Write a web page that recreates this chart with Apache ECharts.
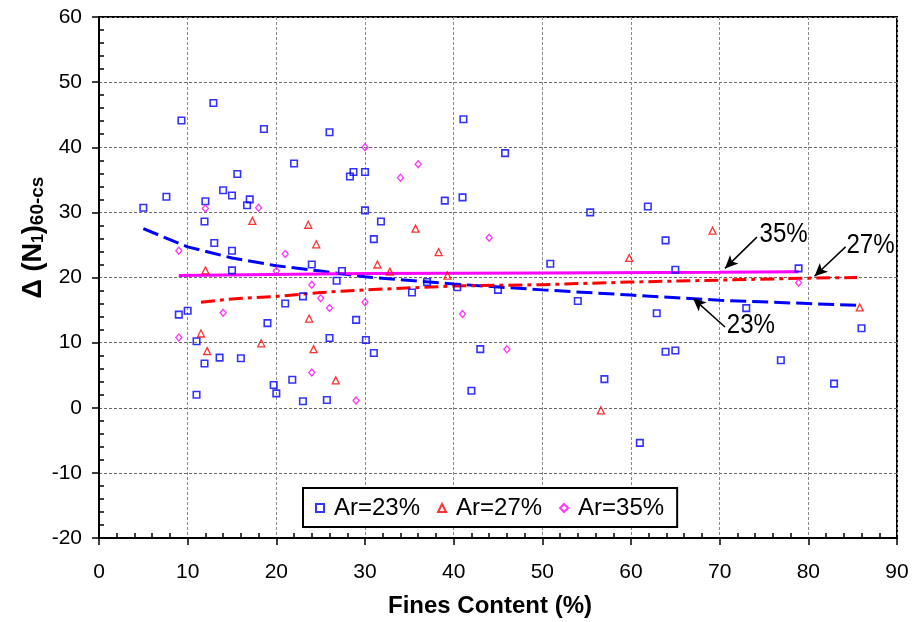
<!DOCTYPE html>
<html>
<head>
<meta charset="utf-8">
<script src="https://cdn.jsdelivr.net/npm/echarts@6/dist/echarts.min.js"></script>
<style>
  html, body { margin: 0; padding: 0; background: #fff; }
  #chart { width: 913px; height: 622px; }
</style>
</head>
<body>
<div id="chart"></div>
<script>
// Measured points: [fines content %, Δ(N1)60-cs]
const ar23 = [
  [12.9, 46.8], [9.3, 44.1], [18.6, 42.8], [22.0, 37.5], [15.6, 35.9], [7.6, 32.4],
  [14.0, 33.4], [15.0, 32.6], [12.0, 31.7], [17.0, 32.0], [16.7, 31.1], [5.0, 30.7],
  [11.9, 28.6], [13.0, 25.3], [15.0, 24.1], [24.0, 22.0], [15.0, 21.1], [23.0, 17.1],
  [21.0, 16.0], [9.0, 14.3], [10.0, 14.9], [19.0, 13.0], [11.0, 10.2], [13.6, 7.7],
  [16.0, 7.6], [11.9, 6.8], [21.8, 4.3], [19.7, 3.5], [20.0, 2.2], [11.0, 2.0],
  [23.0, 1.0], [25.7, 1.2], [26.0, 42.3], [41.1, 44.3], [45.8, 39.1], [28.7, 36.2],
  [28.3, 35.5], [30.0, 36.2], [39.0, 31.8], [41.0, 32.3], [30.0, 30.3], [31.8, 28.6],
  [31.0, 25.9], [27.4, 21.0], [26.8, 19.5], [37.0, 19.3], [40.4, 18.5], [35.3, 17.7],
  [45.0, 18.1], [29.0, 13.5], [26.0, 10.7], [30.1, 10.4], [31.0, 8.4], [43.0, 9.0],
  [42.0, 2.6], [55.4, 30.0], [61.9, 30.9], [63.9, 25.7], [50.9, 22.1], [65.0, 21.2],
  [54.0, 16.4], [62.9, 14.5], [73.0, 15.3], [63.9, 8.6], [65.0, 8.8], [57.0, 4.4],
  [61.0, -5.4], [78.9, 21.4], [86.0, 12.2], [76.9, 7.3], [82.9, 3.7]
];
const ar27 = [
  [17.3, 28.7], [23.6, 28.1], [24.5, 25.1], [12.0, 21.1], [23.7, 13.7], [11.5, 11.4],
  [18.3, 9.9], [12.2, 8.7], [24.2, 9.0], [35.7, 27.5], [38.3, 23.9], [31.4, 22.0],
  [32.8, 20.9], [39.3, 20.3], [26.7, 4.2], [69.2, 27.2], [59.8, 23.0], [56.6, -0.4],
  [85.8, 15.4]
];
const ar35 = [
  [12.0, 30.6], [18.0, 30.7], [9.0, 24.1], [21.0, 23.6], [20.0, 21.0], [24.0, 18.9],
  [25.0, 16.8], [14.0, 14.6], [9.0, 10.8], [24.0, 5.4], [30.0, 40.0], [36.0, 37.4],
  [34.0, 35.3], [44.0, 26.1], [26.0, 15.3], [30.0, 16.2], [41.0, 14.4], [46.0, 9.0],
  [29.0, 1.1], [78.9, 19.2]
];

// Trend lines
const fit23 = [
  [5, 27.5], [10, 24.7], [15, 23.0], [20, 21.8], [25, 21.0], [30, 20.1],
  [40, 19.0], [50, 18.1], [60, 17.3], [70, 16.5], [80, 16.0], [86, 15.7]
];
const fit27 = [
  [11.5, 16.2], [15, 16.7], [20, 17.1], [25, 17.7], [30, 18.1], [40, 18.7],
  [50, 18.9], [60, 19.3], [70, 19.6], [80, 19.9], [85.5, 20.0]
];
const fit35 = [
  [9, 20.3], [30, 20.6], [50, 20.7], [70, 20.8], [78.9, 20.9]
];

// Callout labels and their arrows (data coordinates)
const noteLabels = ['35%', '27%', '23%'];
const noteTextAt = [[74.5, 26.6], [84.3, 24.9], [70.8, 12.7]];
const noteArrowFrom = [[74.2, 26.2], [84.2, 24.7], [70.6, 12.4]];
const noteArrowTo = [[70.6, 21.4], [80.7, 20.2], [67.0, 16.8]];

const seriesNames = ['Ar=23%', 'Ar=27%', 'Ar=35%'];

const ff = '"Liberation Sans", Arial, Helvetica, sans-serif';
const BLUE = '#0000ff', RED = '#ff0000', PINK = '#ff00ff';

const chart = echarts.init(document.getElementById('chart'), null, { renderer: 'canvas' });

const option = {
  animation: false,
  backgroundColor: '#fff',
  textStyle: { fontFamily: ff },
  grid: {
    left: 99, top: 17, right: 16, bottom: 84,
    outerBoundsMode: 'none', containLabel: false,
    show: true, borderColor: '#000', borderWidth: 2, backgroundColor: 'transparent'
  },
  legend: {
    data: seriesNames,
    left: 303, top: 488,
    orient: 'horizontal',
    backgroundColor: '#fff',
    borderColor: '#000', borderWidth: 2, borderRadius: 0,
    padding: [8, 13, 7, 12],
    itemGap: 17, itemWidth: 8, itemHeight: 8,
    selectedMode: false,
    textStyle: { fontSize: 24, color: '#000', fontFamily: ff, padding: [0, 0, 0, 5] }
  },
  xAxis: [
    {
      type: 'value', min: 0, max: 90, interval: 10, position: 'bottom',
      axisLine: { show: true, onZero: false, lineStyle: { color: '#000', width: 2 } },
      axisTick: { show: true, length: 7, lineStyle: { color: '#000', width: 1.5 } },
      axisLabel: { color: '#000', fontSize: 21, margin: 24, fontFamily: ff },
      splitLine: { show: true, lineStyle: { color: '#8a8a8a', type: [3, 2], width: 1 } },
      name: 'Fines Content (%)', nameLocation: 'middle', nameGap: 56,
      nameMoveOverlap: false,
      nameTextStyle: { color: '#000', fontSize: 24, fontWeight: 'bold', fontFamily: ff, padding: [0, 16, 0, 0] }
    },
    {
      type: 'value', min: 0, max: 90, interval: 10, position: 'bottom', gridIndex: 0,
      axisLine: { show: false, onZero: false }, axisLabel: { show: false }, splitLine: { show: false },
      axisTick: { show: false, inside: true },
      minorTick: { show: true, splitNumber: 5, length: 5, lineStyle: { color: '#000', width: 1.5 } }
    }
  ],
  yAxis: [
    {
      type: 'value', min: -20, max: 60, interval: 10, position: 'left',
      axisLine: { show: true, onZero: false, lineStyle: { color: '#000', width: 2 } },
      axisTick: { show: true, length: 7, lineStyle: { color: '#000', width: 1.5 } },
      axisLabel: { color: '#000', fontSize: 21, margin: 17, fontFamily: ff },
      splitLine: { show: true, lineStyle: { color: '#6a6a6a', type: [3, 2], width: 1 } },
      name: '{m|Δ (N}{s|1}{m|)}{t|60-cs}', nameLocation: 'middle', nameGap: 52,
      nameMoveOverlap: false,
      nameTextStyle: {
        color: '#000', fontFamily: ff, fontWeight: 'bold', fontSize: 27,
        padding: [0, 0, 0, 80],
        rich: {
          m: { fontSize: 27, fontWeight: 'bold', fontFamily: ff, color: '#000', lineHeight: 27, verticalAlign: 'top', padding: [0, 0, 7, 0] },
          s: { fontSize: 16, fontWeight: 'bold', fontFamily: ff, color: '#000', lineHeight: 18, verticalAlign: 'bottom' },
          t: { fontSize: 19, fontWeight: 'bold', fontFamily: ff, color: '#000', lineHeight: 20, verticalAlign: 'bottom' }
        }
      }
    },
    {
      type: 'value', min: -20, max: 60, interval: 10, position: 'left', gridIndex: 0,
      axisLine: { show: false, onZero: false }, axisLabel: { show: false }, splitLine: { show: false },
      axisTick: { show: false, inside: true },
      minorTick: { show: true, splitNumber: 5, length: 5, lineStyle: { color: '#000', width: 1.5 } }
    }
  ],
  series: [
    {
      name: seriesNames[0], type: 'scatter', data: ar23, xAxisIndex: 0, yAxisIndex: 0,
      symbol: 'rect', symbolSize: 6.5, z: 4,
      itemStyle: { color: 'rgba(0,0,0,0)', borderColor: BLUE, borderWidth: 1.6 }
    },
    {
      name: seriesNames[1], type: 'scatter', data: ar27, xAxisIndex: 0, yAxisIndex: 0,
      symbol: 'triangle', symbolSize: 7, z: 4,
      itemStyle: { color: 'rgba(0,0,0,0)', borderColor: RED, borderWidth: 1.3 }
    },
    {
      name: seriesNames[2], type: 'scatter', data: ar35, xAxisIndex: 0, yAxisIndex: 0,
      symbol: 'diamond', symbolSize: [6, 7], z: 4,
      itemStyle: { color: 'rgba(0,0,0,0)', borderColor: PINK, borderWidth: 1.3 }
    },
    {
      name: 'fit 23%', type: 'line', data: fit23, xAxisIndex: 0, yAxisIndex: 0,
      showSymbol: false, symbol: 'none', silent: true, z: 3,
      lineStyle: { color: BLUE, width: 3, type: [16, 6] }
    },
    {
      name: 'fit 27%', type: 'line', data: fit27, xAxisIndex: 0, yAxisIndex: 0,
      showSymbol: false, symbol: 'none', silent: true, z: 3,
      lineStyle: { color: RED, width: 3, type: [14, 5, 4, 5] }
    },
    {
      name: 'fit 35%', type: 'line', data: fit35, xAxisIndex: 0, yAxisIndex: 0,
      showSymbol: false, symbol: 'none', silent: true, z: 3,
      lineStyle: { color: PINK, width: 3, type: 'solid' },
      markLine: {
        silent: true,
        symbol: ['none', 'arrow'], symbolSize: [9, 13],
        lineStyle: { color: '#000', width: 1.5, type: 'solid' },
        label: { show: false },
        emphasis: { disabled: true },
        data: noteArrowFrom.map((p, i) => [{ coord: p }, { coord: noteArrowTo[i] }])
      }
    }
  ]
};

chart.setOption(option);

// Callout texts placed through the axis scales
const noteGraphics = noteLabels.map((label, i) => {
  const p = chart.convertToPixel({ seriesIndex: 0 }, noteTextAt[i]);
  return {
    type: 'text', x: p[0], y: p[1], scaleX: 0.86, z: 10,
    style: {
      text: label, fill: '#000', fontSize: 28, fontFamily: ff,
      align: 'left', verticalAlign: 'middle'
    }
  };
});
chart.setOption({ graphic: noteGraphics });
</script>
</body>
</html>
